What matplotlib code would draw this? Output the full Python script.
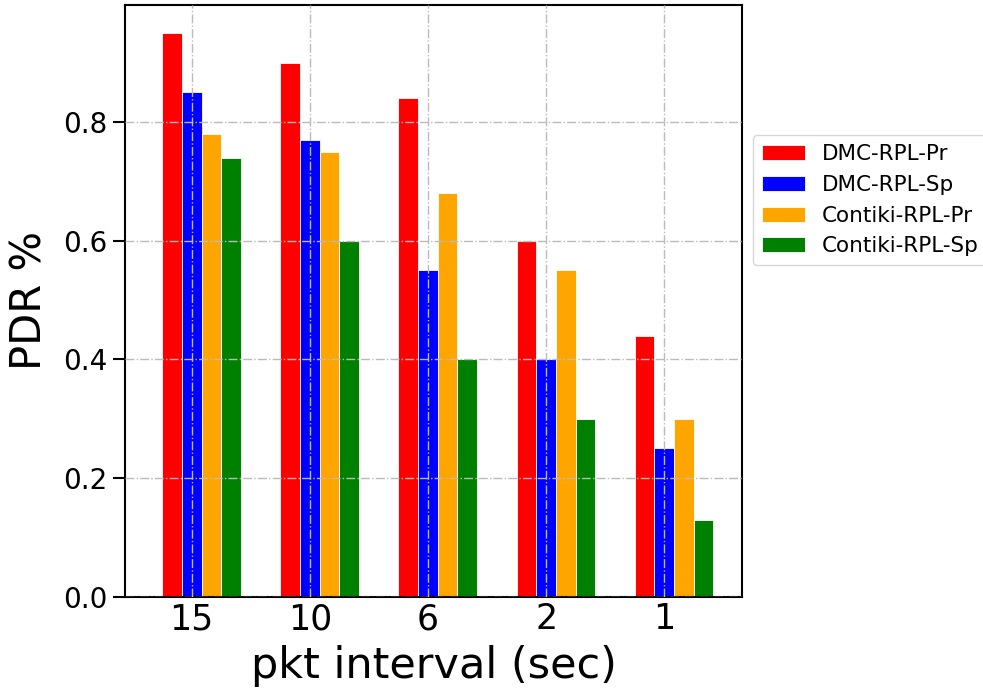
import matplotlib
matplotlib.use('Agg')
import matplotlib.pyplot as plt
import numpy as np

# data
intervals = ['15', '10', '6', '2', '1']
dmc_pr = [0.95, 0.90, 0.84, 0.60, 0.44]
dmc_sp = [0.85, 0.77, 0.55, 0.40, 0.25]
contiki_pr = [0.78, 0.75, 0.68, 0.55, 0.30]
contiki_sp = [0.74, 0.60, 0.40, 0.30, 0.13]

series = [
    ('DMC-RPL-Pr', dmc_pr, 'red'),
    ('DMC-RPL-Sp', dmc_sp, 'blue'),
    ('Contiki-RPL-Pr', contiki_pr, 'orange'),
    ('Contiki-RPL-Sp', contiki_sp, 'green'),
]

fig = plt.figure(figsize=(9.83, 6.9), dpi=100)
ax = fig.add_axes([0.127, 0.135, 0.628, 0.858])

x = np.arange(len(intervals))
w = 1 / 6
for k, (name, vals, col) in enumerate(series):
    ax.bar(x + (k - 1) * w, vals, w, color=col, label=name,
           edgecolor='white', linewidth=0.6, zorder=1)

ax.set_xticks(x)
ax.set_xticklabels(intervals)
ax.set_xlim(-0.566, 4.66)
ax.set_yticks([0.0, 0.2, 0.4, 0.6, 0.8])
ax.grid(True, linestyle='-.', color='#bbbbbb', linewidth=1.0, zorder=3)
ax.set_axisbelow(False)

ax.tick_params(axis='y', labelsize=20, length=9, width=1.5)
ax.tick_params(axis='x', labelsize=25, length=0, pad=4)
for s in ax.spines.values():
    s.set_linewidth(1.5)

ax.set_xlabel('pkt interval (sec)', fontsize=31, labelpad=6)
ax.set_ylabel('PDR %', fontsize=30, labelpad=9)

ax.legend(loc='center left', bbox_to_anchor=(1.0, 0.67), fontsize=15.5,
          handlelength=2.0, borderpad=0.4, labelspacing=0.5)

fig.savefig('out.png', dpi=100)
